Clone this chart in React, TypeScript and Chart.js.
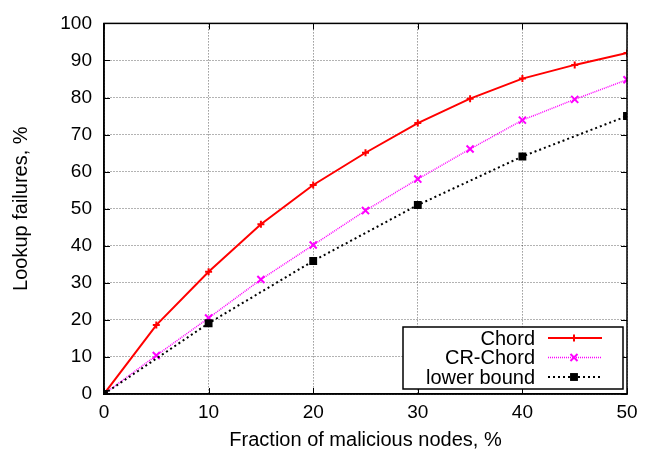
import React, { useEffect, useRef } from "react";
import { Chart, registerables } from "chart.js";

Chart.register(...registerables);

const xChord = [0, 5, 10, 15, 20, 25, 30, 35, 40, 45, 50];
const yChord = [0, 18.6, 33, 45.8, 56.4, 65.1, 73.1, 79.7, 85.1, 88.8, 92];
const xCR = [0, 5, 10, 15, 20, 25, 30, 35, 40, 45, 50];
const yCR = [0, 10.4, 20.5, 30.9, 40.2, 49.5, 58, 66.1, 73.9, 79.5, 84.8];
const xLower = [0, 10, 20, 30, 40, 50];
const yLower = [0, 19.1, 35.9, 51, 64.1, 75];
const seriesNames = ["Chord", "CR-Chord", "lower bound"];
const xTitle = "Fraction of malicious nodes, %";
const yTitle = "Lookup failures, %";

const FONT = "'Liberation Sans', Arial, Helvetica, sans-serif";

const zip = (xs: number[], ys: number[]) => xs.map((x, i) => ({ x, y: ys[i] }));

function drawMarker(ctx: CanvasRenderingContext2D, style: string, r: number, x: number, y: number) {
  const d = Math.cos(Math.PI / 4) * r;
  if (style === "rect") {
    const s = Math.SQRT1_2 * r;
    ctx.fillRect(x - s, y - s, 2 * s, 2 * s);
    ctx.strokeRect(x - s, y - s, 2 * s, 2 * s);
    return;
  }
  ctx.beginPath();
  if (style === "cross" || style === "star") {
    ctx.moveTo(x - r, y); ctx.lineTo(x + r, y);
    ctx.moveTo(x, y - r); ctx.lineTo(x, y + r);
  }
  if (style === "crossRot" || style === "star") {
    ctx.moveTo(x - d, y - d); ctx.lineTo(x + d, y + d);
    ctx.moveTo(x - d, y + d); ctx.lineTo(x + d, y - d);
  }
  ctx.stroke();
}

const framePlugin = {
  id: "frame",
  afterDraw(chart: any) {
    const { ctx, chartArea: a, scales } = chart;
    ctx.save();
    ctx.strokeStyle = "#000";
    ctx.lineWidth = 1.5;
    ctx.setLineDash([]);
    ctx.strokeRect(a.left, a.top, a.right - a.left, a.bottom - a.top);
    ctx.lineWidth = 1;
    const tl = 6;
    scales.y.ticks.forEach((t: any) => {
      const y = Math.round(scales.y.getPixelForValue(t.value)) + 0.5;
      ctx.beginPath();
      ctx.moveTo(a.left, y); ctx.lineTo(a.left + tl, y);
      ctx.moveTo(a.right, y); ctx.lineTo(a.right - tl, y);
      ctx.stroke();
    });
    scales.x.ticks.forEach((t: any) => {
      const x = Math.round(scales.x.getPixelForValue(t.value)) + 0.5;
      ctx.beginPath();
      ctx.moveTo(x, a.bottom); ctx.lineTo(x, a.bottom - tl);
      ctx.moveTo(x, a.top); ctx.lineTo(x, a.top + tl);
      ctx.stroke();
    });

    // legend
    const bx1 = a.right - 224, bx2 = a.right - 4, by1 = a.bottom - 67, by2 = a.bottom - 5;
    ctx.fillStyle = "#fff";
    ctx.fillRect(bx1, by1, bx2 - bx1, by2 - by1);
    ctx.lineWidth = 1.5;
    ctx.strokeStyle = "#000";
    ctx.strokeRect(bx1, by1, bx2 - bx1, by2 - by1);
    ctx.font = `20px ${FONT}`;
    ctx.textAlign = "right";
    ctx.textBaseline = "middle";
    const textX = bx1 + 132;
    const lx1 = bx1 + 145, lx2 = bx1 + 199, lmid = bx1 + 171;
    chart.data.datasets.forEach((ds: any, i: number) => {
      const y = by1 + 11 + i * 19.5;
      ctx.fillStyle = "#000";
      ctx.fillText(ds.label, textX, y + 1);
      ctx.save();
      ctx.strokeStyle = ds.borderColor;
      ctx.lineWidth = ds.borderWidth;
      ctx.setLineDash(ds.borderDash || []);
      ctx.beginPath();
      ctx.moveTo(lx1, y); ctx.lineTo(lx2, y);
      ctx.stroke();
      ctx.restore();
      ctx.save();
      ctx.strokeStyle = ds.pointBorderColor;
      ctx.fillStyle = ds.pointBackgroundColor;
      ctx.lineWidth = ds.pointBorderWidth;
      ctx.setLineDash([]);
      drawMarker(ctx, ds.pointStyle, ds.pointRadius, lmid, y);
      ctx.restore();
    });
    ctx.restore();
  },
};

export default function App() {
  const ref = useRef<HTMLCanvasElement>(null);
  useEffect(() => {
    document.body.style.margin = "0";
    const chart = new Chart(ref.current!, {
      type: "line",
      data: {
        datasets: [
          {
            label: seriesNames[0],
            data: zip(xChord, yChord),
            borderColor: "#ff0000",
            borderWidth: 2,
            pointStyle: "cross",
            pointRadius: 3.5,
            pointBorderWidth: 2,
            pointBorderColor: "#ff0000",
            pointBackgroundColor: "#ff0000",
            order: 3,
          },
          {
            label: seriesNames[1],
            data: zip(xCR, yCR),
            borderColor: "#ff00ff",
            borderWidth: 1.5,
            borderDash: [1, 1],
            pointStyle: "crossRot",
            pointRadius: 5,
            pointBorderWidth: 2,
            pointBorderColor: "#ff00ff",
            pointBackgroundColor: "#ff00ff",
            order: 2,
          },
          {
            label: seriesNames[2],
            data: zip(xLower, yLower),
            borderColor: "#000000",
            borderWidth: 2,
            borderDash: [2, 3],
            pointStyle: "rect",
            pointRadius: 4.5,
            pointBorderWidth: 1.5,
            pointBorderColor: "#000000",
            pointBackgroundColor: "#000000",
            order: 1,
          },
        ] as any,
      },
      options: {
        animation: false,
        responsive: false,
        layout: { padding: { left: 0, top: 18, right: 27, bottom: 0 } },
        plugins: { legend: { display: false }, tooltip: { enabled: false } },
        elements: { line: { tension: 0 } },
        scales: {
          x: {
            type: "linear",
            min: 0,
            max: 50,
            ticks: { stepSize: 10, color: "#000", font: { family: FONT, size: 19 }, padding: 7, maxRotation: 0 },
            grid: { color: "rgba(0,0,0,0.6)", drawTicks: false, lineWidth: 1 },
            border: { dash: [1, 2], color: "#000", width: 1.5 },
            title: { display: true, text: xTitle, color: "#000", font: { family: FONT, size: 20 }, padding: { top: 0, bottom: 2 } },
            afterFit: (s: any) => { s.height = 60; },
          },
          y: {
            min: 0,
            max: 100,
            ticks: { stepSize: 10, color: "#000", font: { family: FONT, size: 19 }, padding: 12 },
            grid: { color: "rgba(0,0,0,0.6)", drawTicks: false, lineWidth: 1 },
            border: { dash: [1, 2], color: "#000", width: 1.5 },
            title: { display: true, text: yTitle, color: "#000", font: { family: FONT, size: 20 }, padding: { top: 9, bottom: 0 } },
            afterFit: (s: any) => { s.width = 104; },
          },
        },
      },
      plugins: [framePlugin],
    });
    return () => chart.destroy();
  }, []);
  return (
    <div style={{ width: 654, height: 454, background: "#fff" }}>
      <canvas ref={ref} width={654} height={454} />
    </div>
  );
}
